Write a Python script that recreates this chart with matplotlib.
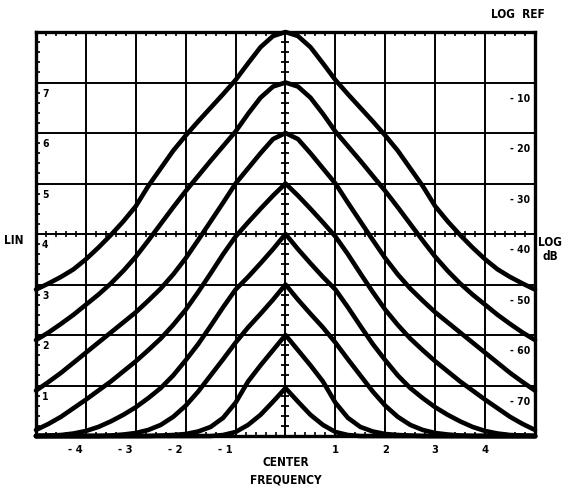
import numpy as np
import matplotlib
matplotlib.use('Agg')
import matplotlib.pyplot as plt

# half profile of each trace (mirror image about centre frequency)
dist = [0, 0.25, 0.5, 0.75, 1, 1.25, 1.5, 1.75, 2, 2.25, 2.5, 2.75,
        3, 3.25, 3.5, 3.75, 4, 4.25, 4.5, 4.75, 5]
trace8 = [8.0, 7.92, 7.7, 7.38, 7.05, 6.77, 6.5, 6.23, 5.95, 5.65, 5.3, 4.95,
          4.55, 4.25, 3.98, 3.73, 3.5, 3.3, 3.15, 3.02, 2.9]
trace7 = [7.0, 6.92, 6.7, 6.38, 6.03, 5.74, 5.45, 5.15, 4.85, 4.53, 4.2, 3.87,
          3.55, 3.27, 3.02, 2.8, 2.6, 2.4, 2.22, 2.05, 1.9]
trace6 = [6.0, 5.88, 5.6, 5.3, 5.0, 4.62, 4.25, 3.88, 3.52, 3.2, 2.92, 2.68,
          2.45, 2.25, 2.05, 1.85, 1.65, 1.45, 1.25, 1.07, 0.9]
trace5 = [5.0, 4.76, 4.5, 4.23, 3.95, 3.6, 3.22, 2.85, 2.5, 2.2, 1.93, 1.7,
          1.48, 1.28, 1.08, 0.9, 0.72, 0.55, 0.38, 0.24, 0.12]
trace4 = [4.0, 3.7, 3.42, 3.15, 2.9, 2.55, 2.18, 1.82, 1.5, 1.2, 0.95, 0.75,
          0.57, 0.42, 0.29, 0.18, 0.1, 0.05, 0.02, 0.01, 0.0]
trace3 = [3.0, 2.7, 2.42, 2.15, 1.85, 1.52, 1.2, 0.88, 0.6, 0.38, 0.22, 0.12,
          0.06, 0.03, 0.01, 0.0, 0.0, 0.0, 0.0, 0.0, 0.0]
trace2 = [2.0, 1.7, 1.4, 1.08, 0.66, 0.36, 0.18, 0.09, 0.04, 0.02, 0.01, 0.0,
          0.0, 0.0, 0.0, 0.0, 0.0, 0.0, 0.0, 0.0, 0.0]
trace1 = [0.95, 0.68, 0.42, 0.22, 0.08, 0.02, 0.0, 0.0, 0.0, 0.0, 0.0, 0.0,
          0.0, 0.0, 0.0, 0.0, 0.0, 0.0, 0.0, 0.0, 0.0]
traces = [trace8, trace7, trace6, trace5, trace4, trace3, trace2, trace1]

lin_labels = ['7', '6', '5', '4', '3', '2', '1']
log_labels = ['- 10', '- 20', '- 30', '- 40', '- 50', '- 60', '- 70']
freq_ticks = [-4, -3, -2, -1, 1, 2, 3, 4]

plt.rcParams['font.family'] = ['DejaVu Sans']
plt.rcParams['font.stretch'] = 'condensed'
plt.rcParams['font.weight'] = 'bold'

fig = plt.figure(figsize=(5.64, 4.89), dpi=100)
ax = fig.add_axes([0.0638, 0.1063, 0.8848, 0.8262])
ax.set_xlim(-5, 5)
ax.set_ylim(0, 8)

# graticule
ax.set_xticks(np.arange(-5, 6, 1))
ax.set_yticks(np.arange(0, 9, 1))
ax.grid(True, color='black', linewidth=1.4)
ax.set_xticks(np.arange(-5, 5.01, 0.2), minor=True)
ax.set_yticks(np.arange(0, 8.01, 0.2), minor=True)
ax.tick_params(which='major', length=0, labelbottom=False, labelleft=False)
ax.tick_params(which='minor', direction='in', length=3, width=1.2,
               top=True, bottom=True, left=True, right=False, color='black')
for s in ax.spines.values():
    s.set_linewidth(2.4)
    s.set_color('black')

# small marks on centre line and on middle horizontal line
yy = np.arange(0.2, 8, 0.2)
ax.plot(np.zeros_like(yy), yy, linestyle='none', marker='_', markersize=6,
        markeredgewidth=1.3, color='black')
xx = np.arange(-4.8, 5, 0.2)
ax.plot(xx, np.full_like(xx, 4.0), linestyle='none', marker='|', markersize=5,
        markeredgewidth=1.2, color='black')

# traces
d = np.array(dist)
x_full = np.concatenate([-d[::-1], d[1:]])
for tr in traces:
    t = np.array(tr)
    y_full = np.concatenate([t[::-1], t[1:]])
    ax.plot(x_full, y_full, color='black', linewidth=3.3,
            solid_joinstyle='round', solid_capstyle='round', clip_on=False)

# labels
for i, lab in enumerate(lin_labels):
    ax.text(-4.88, 7 - i - 0.1, lab, ha='left', va='top', fontsize=7.5)
for i, lab in enumerate(log_labels):
    ax.text(4.9, 7 - i - 0.2, lab, ha='right', va='top', fontsize=7.5)
for k in freq_ticks:
    if k < 0:
        ax.text(k - 0.06, -0.26, '- ' + str(-k), ha='right', va='center',
                fontsize=8)
    else:
        ax.text(k, -0.26, str(k), ha='center', va='center', fontsize=8)

ax.text(0, -0.5, 'CENTER', ha='center', va='center', fontsize=8.5)
ax.text(0, -0.86, 'FREQUENCY', ha='center', va='center', fontsize=8.5)
ax.text(-5.45, 3.9, 'LIN', ha='center', va='center', fontsize=8.5)
ax.text(5.3, 3.72, 'LOG\ndB', ha='center', va='center', fontsize=8.5,
        linespacing=1.1)
ax.text(4.65, 8.37, 'LOG  REF', ha='center', va='center', fontsize=8.5)

fig.savefig('out.png', dpi=100, facecolor='white')
